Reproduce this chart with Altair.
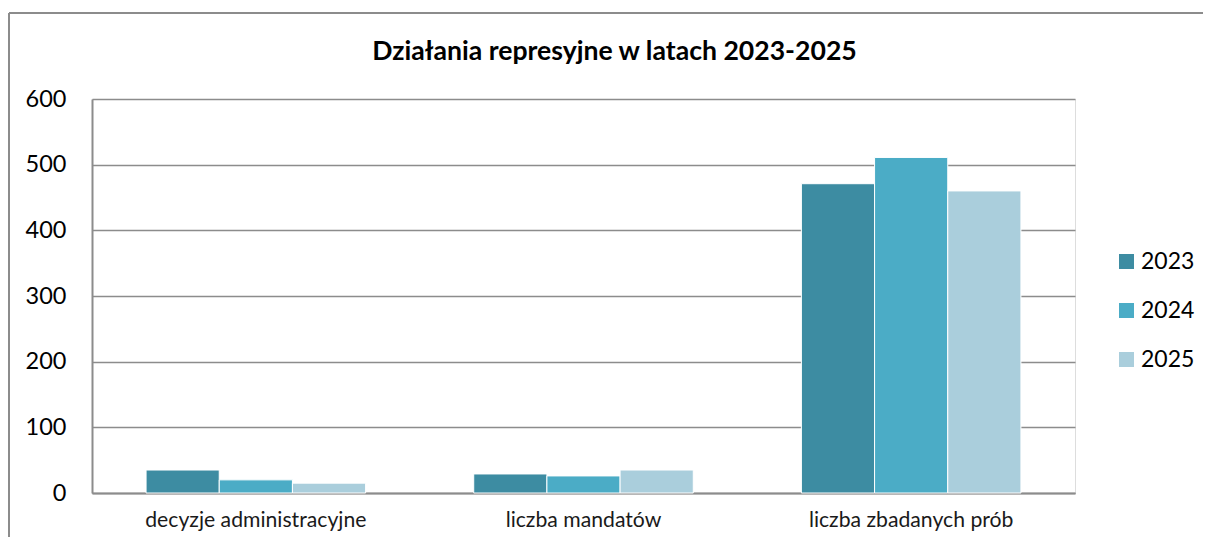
import altair as alt
import pandas as pd

categories = ["decyzje administracyjne", "liczba mandatów", "liczba zbadanych prób"]
years = ["2023", "2024", "2025"]
values_2023 = [35, 29, 471]
values_2024 = [20, 26, 511]
values_2025 = [15, 35, 460]
colors = ["#3d8ca2", "#4bacc6", "#aacedc"]

rows = []
for yr, vals in zip(years, [values_2023, values_2024, values_2025]):
    for c, v in zip(categories, vals):
        rows.append({"kategoria": c, "rok": yr, "wartosc": v})
df = pd.DataFrame(rows)

FONT = "Lato"
W, H = 983, 394

bars = alt.Chart(df).mark_bar(stroke="white", strokeWidth=1).encode(
    x=alt.X("kategoria:N", sort=categories, title=None,
            scale=alt.Scale(paddingInner=0.33, paddingOuter=0.165),
            axis=alt.Axis(labelAngle=0, labelFontSize=21.2, labelColor="#1a1a1a",
                          labelPadding=16, labelLimit=0, ticks=False, tickSize=0,
                          grid=False,
                          domainColor="#8c8c8c", domainWidth=2, labelFont=FONT)),
    xOffset=alt.XOffset("rok:N", sort=years),
    y=alt.Y("wartosc:Q", title=None,
            scale=alt.Scale(domain=[0, 600], nice=False),
            axis=alt.Axis(values=[0, 100, 200, 300, 400, 500, 600], labelFontSize=23.5,
                          labelColor="#000000", labelPadding=26, ticks=False, tickSize=0,
                          domainColor="#8c8c8c", domainWidth=2, gridColor="#8c8c8c",
                          gridWidth=1.5, labelFont=FONT)),
    color=alt.Color("rok:N", sort=years, title=None,
                    scale=alt.Scale(domain=years, range=colors),
                    legend=alt.Legend(orient="none", legendX=1023, legendY=151,
                                      symbolType="square", symbolSize=225,
                                      symbolStrokeWidth=0, labelFontSize=23,
                                      labelFont=FONT, labelColor="#000000",
                                      rowPadding=25, labelOffset=3, padding=0)),
)

frame_top = alt.Chart(df).mark_rule(color="#8c8c8c", strokeWidth=2).encode(
    x=alt.value(-83), x2=alt.value(1200), y=alt.value(-86)
)
frame_left = alt.Chart(df).mark_rule(color="#8c8c8c", strokeWidth=2).encode(
    x=alt.value(-83), y=alt.value(-86), y2=alt.value(460)
)

chart = alt.layer(bars, frame_top, frame_left).properties(
    width=W, height=H,
    title=alt.TitleParams("Działania represyjne w latach 2023-2025", font=FONT,
                          fontSize=26.6, fontWeight="bold", color="#000000",
                          anchor="middle", dx=31, offset=-54),
    autosize=alt.AutoSizeParams(type="none"),
    padding={"left": 84, "top": 91, "right": 128, "bottom": 44},
).configure_view(stroke="transparent", strokeWidth=0, strokeOpacity=0).configure(background="white")

chart.save("out.html", embed_options={"renderer": "svg", "actions": False})
